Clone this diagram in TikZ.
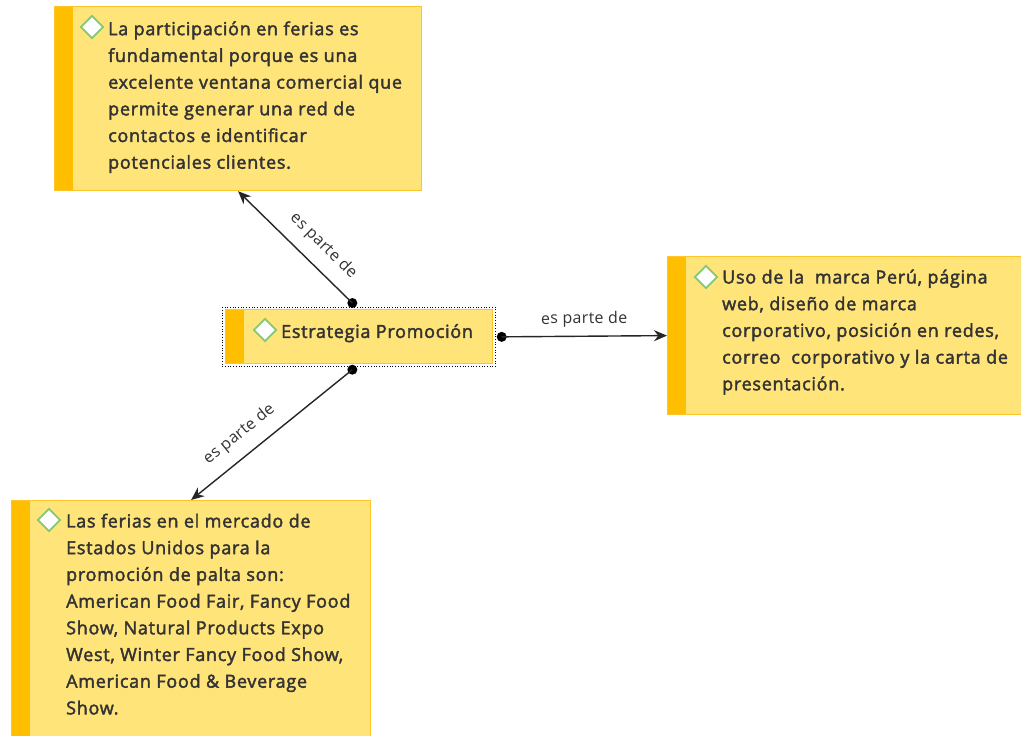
\documentclass[tikz,border=0pt]{standalone}
\usepackage{fontspec}
\setmainfont{Open Sans}
\newfontfamily\cardfont{Open Sans}[FakeBold=2.2,LetterSpace=4]
\newfontfamily\relfont{Open Sans}[LetterSpace=2]
\usetikzlibrary{shapes.geometric,arrows.meta}
\definecolor{cardfill}{HTML}{FFE47A}
\definecolor{cardbar}{HTML}{FFBF00}
\definecolor{cardline}{HTML}{FFC42A}
\definecolor{txt}{HTML}{333333}
\definecolor{gemline}{HTML}{84C873}
\tikzset{
  card/.style={rectangle, draw=cardline, line width=1.2pt, fill=cardfill,
    inner sep=0pt, anchor=north west,
    path picture={\fill[cardbar] (path picture bounding box.north west)
      rectangle ([xshift=18pt]path picture bounding box.south west);}},
  body/.style={anchor=north west, align=left, inner sep=0pt, text=txt,
    font=\cardfont\fontsize{18}{26.7}\selectfont},
  gem/.style={diamond, draw=gemline, line width=1.8pt, fill=white,
    minimum width=23pt, minimum height=23pt, inner sep=0pt},
  selbox/.style={rectangle, draw=black, dotted, line width=0.7pt,
    inner sep=0pt, anchor=north west},
  conn/.style={draw=black!85, line width=1.4pt, -{Stealth[length=13pt,width=11pt]}},
  dot/.style={circle, fill=black, inner sep=0pt, minimum size=10pt},
  rel/.style={text=txt, font=\relfont\fontsize{16}{18}\selectfont, inner sep=1pt, sloped}
}
\begin{document}
\begin{tikzpicture}[x=1pt,y=-1pt]
\useasboundingbox[fill=white] (0,0) rectangle (1021,736);
\clip (0,0) rectangle (1021,736);

% central concept with its selection frame
\node[selbox, minimum width=273pt, minimum height=59pt] (sel) at (222,307) {};
\node[card, minimum width=267pt, minimum height=54pt] (est) at (225,309) {};
\node[gem] (estG) at (265,330) {};
\node[body] (estT) at (281,319) {\strut Estrategia Promoción};

% upper card
\node[card, minimum width=367pt, minimum height=184pt] (feria) at (54,6) {};
\node[gem] (feriaG) at (92,27) {};
\node[body] (feriaT) at (108,16.3) {\strut La participación en ferias es\\
  fundamental porque es una\\
  excelente ventana comercial que\\
  permite generar una red de\\
  contactos e identificar\\
  potenciales clientes.};

% right card
\node[card, minimum width=370pt, minimum height=158pt] (marca) at (667,256) {};
\node[gem] (marcaG) at (706,277) {};
\node[body] (marcaT) at (722,264.6) {\strut Uso de la\ \ marca Perú, página\\
  web, diseño de marca\\
  corporativo, posición en redes,\\
  correo\ \ corporativo y la carta de\\
  presentación.};

% lower card
\node[card, minimum width=359pt, minimum height=250pt] (usa) at (11,500) {};
\node[gem] (usaG) at (49,520) {};
\node[body] (usaT) at (66,508.6) {\strut Las ferias en el mercado de\\
  Estados Unidos para la\\
  promoción de palta son:\\
  American Food Fair, Fancy Food\\
  Show, Natural Products Expo\\
  West, Winter Fancy Food Show,\\
  American Food \& Beverage\\
  Show.};

% connector start points
\node[dot] (d1) at ([xshift=-6.5pt,yshift=4pt]sel.north) {};
\node[dot] (d2) at ([xshift=-6.5pt,yshift=-3pt]sel.south) {};
\node[dot] (d3) at ([xshift=6pt]sel.east) {};

% relations
\draw[conn] (d1.center) -- (feria.south)
  node[rel, pos=0.38, above=11pt] {es parte de};
\draw[conn] (d3.center) -- (marca.west)
  node[rel, midway, above=7pt] {es parte de};
\draw[conn] (d2.center) -- (usa.north)
  node[rel, pos=0.62, above=11pt] {es parte de};
\end{tikzpicture}
\end{document}
